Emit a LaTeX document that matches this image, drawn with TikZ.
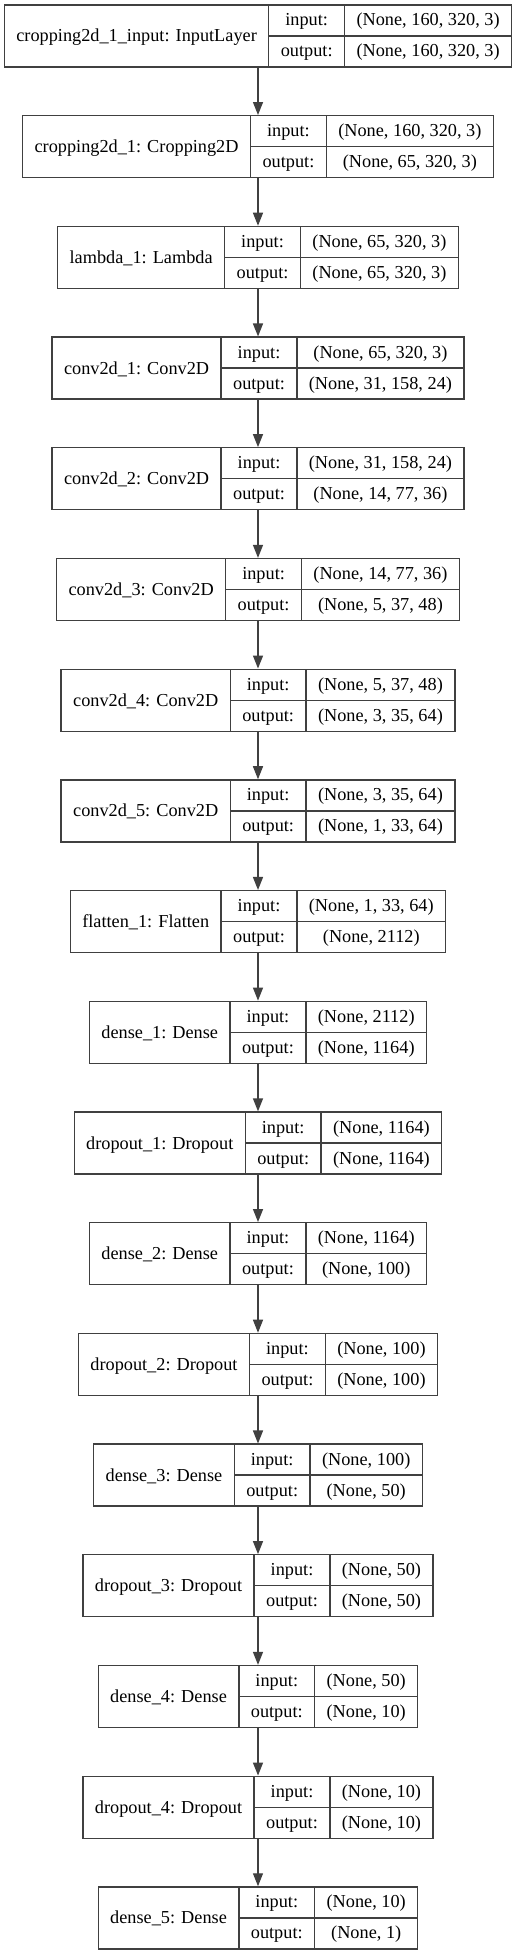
\documentclass[tikz,border=0pt]{standalone}
\usepackage{fontspec}
\setmainfont{Liberation Serif}
\usetikzlibrary{arrows.meta}
\font\lyf="Liberation Serif" at 13.7pt
\newlength\cwa \newlength\cwb \newlength\cwc \newlength\cwt
\tikzset{
  rec/.style={draw=black!75, line width=1pt, rectangle, inner sep=0pt, minimum height=46.5pt},
  cell/.style={draw=black!75, line width=1pt},
  txt/.style={anchor=base, inner sep=0pt, font=\lyf, text=black},
  arr/.style={draw=black!75, line width=1pt, -{Triangle[length=9.75pt,width=7.5pt]}}
}
\newcommand\netlayer[5]{%
  \settowidth\cwa{\lyf #3}\addtolength\cwa{18pt}%
  \settowidth\cwb{\lyf output:}\addtolength\cwb{18pt}%
  \settowidth\cwc{\lyf #4}\settowidth\cwt{\lyf #5}%
  \ifdim\cwt>\cwc \cwc=\cwt\fi \addtolength\cwc{18pt}%
  \pgfmathsetmacro\lyTW{(\cwa+\cwb+\cwc)/0.75}%
  \pgfmathsetmacro\lyXL{258-\lyTW/2}%
  \pgfmathsetmacro\lyXA{\lyXL+\cwa/0.75}%
  \pgfmathsetmacro\lyXB{\lyXA+\cwb/0.75}%
  \pgfmathsetmacro\lyXR{258+\lyTW/2}%
  \pgfmathsetmacro\lyYT{5+#2*110.7}%
  \pgfmathsetmacro\lyYM{\lyYT+31}%
  \pgfmathsetmacro\lyYB{\lyYT+62}%
  \node[rec, minimum width={\cwa+\cwb+\cwc}] (#1) at (258,\lyYM) {};
  \draw[cell] (\lyXA,\lyYT) -- (\lyXA,\lyYB) (\lyXB,\lyYT) -- (\lyXB,\lyYB) (\lyXA,\lyYM) -- (\lyXR,\lyYM);
  \node[txt] (#1name) at ({(\lyXL+\lyXA)/2},\lyYT+37) {#3};
  \node[txt] (#1inl) at ({(\lyXA+\lyXB)/2},\lyYT+21) {input:};
  \node[txt] (#1outl) at ({(\lyXA+\lyXB)/2},\lyYT+52) {output:};
  \node[txt] (#1inv) at ({(\lyXB+\lyXR)/2},\lyYT+21) {#4};
  \node[txt] (#1outv) at ({(\lyXB+\lyXR)/2},\lyYT+52) {#5};
}
\begin{document}
\begin{tikzpicture}[x=0.75pt, y=-0.75pt]
\useasboundingbox[fill=white] (0,0) rectangle (516,1955);
\netlayer{L0}{0}{cropping2d\_1\_input: InputLayer}{(None, 160, 320, 3)}{(None, 160, 320, 3)}
\netlayer{L1}{1}{cropping2d\_1: Cropping2D}{(None, 160, 320, 3)}{(None, 65, 320, 3)}
\netlayer{L2}{2}{lambda\_1: Lambda}{(None, 65, 320, 3)}{(None, 65, 320, 3)}
\netlayer{L3}{3}{conv2d\_1: Conv2D}{(None, 65, 320, 3)}{(None, 31, 158, 24)}
\netlayer{L4}{4}{conv2d\_2: Conv2D}{(None, 31, 158, 24)}{(None, 14, 77, 36)}
\netlayer{L5}{5}{conv2d\_3: Conv2D}{(None, 14, 77, 36)}{(None, 5, 37, 48)}
\netlayer{L6}{6}{conv2d\_4: Conv2D}{(None, 5, 37, 48)}{(None, 3, 35, 64)}
\netlayer{L7}{7}{conv2d\_5: Conv2D}{(None, 3, 35, 64)}{(None, 1, 33, 64)}
\netlayer{L8}{8}{flatten\_1: Flatten}{(None, 1, 33, 64)}{(None, 2112)}
\netlayer{L9}{9}{dense\_1: Dense}{(None, 2112)}{(None, 1164)}
\netlayer{L10}{10}{dropout\_1: Dropout}{(None, 1164)}{(None, 1164)}
\netlayer{L11}{11}{dense\_2: Dense}{(None, 1164)}{(None, 100)}
\netlayer{L12}{12}{dropout\_2: Dropout}{(None, 100)}{(None, 100)}
\netlayer{L13}{13}{dense\_3: Dense}{(None, 100)}{(None, 50)}
\netlayer{L14}{14}{dropout\_3: Dropout}{(None, 50)}{(None, 50)}
\netlayer{L15}{15}{dense\_4: Dense}{(None, 50)}{(None, 10)}
\netlayer{L16}{16}{dropout\_4: Dropout}{(None, 10)}{(None, 10)}
\netlayer{L17}{17}{dense\_5: Dense}{(None, 10)}{(None, 1)}
\foreach \i [evaluate=\i as \j using int(\i+1)] in {0,...,16}
  \draw[arr] (L\i.south) -- (L\j.north);
\end{tikzpicture}
\end{document}
